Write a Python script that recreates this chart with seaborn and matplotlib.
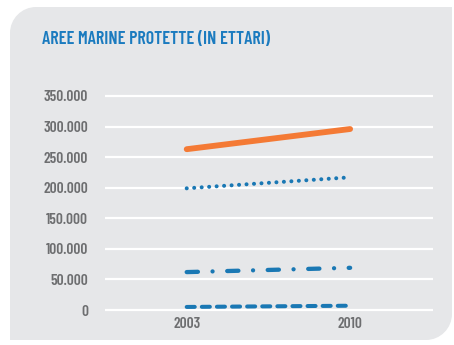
import matplotlib
matplotlib.use("Agg")
import matplotlib.pyplot as plt
from matplotlib.path import Path
from matplotlib.patches import PathPatch
from matplotlib import font_manager
import seaborn as sns
import pandas as pd

years = [2003, 2010]
serie_arancio = [263000, 296000]
serie_punti = [199000, 217000]
serie_tratto_punto = [62000, 69000]
serie_tratteggio = [5000, 7000]
yticks = [0, 50000, 100000, 150000, 200000, 250000, 300000, 350000]
ytick_labels = ["0", "50.000", "100.000", "150.000", "200.000", "250.000", "300.000", "350.000"]
title = "AREE MARINE PROTETTE (IN ETTARI)"

names = {f.name for f in font_manager.fontManager.ttflist}
font = "DejaVu Sans"
for cand in ["Barlow Condensed", "Roboto Condensed", "Barlow Semi Condensed",
             "PT Sans Narrow", "Liberation Sans Narrow"]:
    if cand in names:
        font = cand
        break

sns.set_theme(style="white")
plt.rcParams["font.family"] = [font, "DejaVu Sans"]

W, H = 454, 345
fig = plt.figure(figsize=(W / 100, H / 100), dpi=100)
fig.patch.set_facecolor("white")
renderer = fig.canvas.get_renderer()


def fit_size(text_obj, target_px):
    """Scale a text's font size so its rendered width is target_px."""
    w = text_obj.get_window_extent(renderer).width
    text_obj.set_fontsize(text_obj.get_fontsize() * target_px / w)
    return text_obj.get_fontsize()


# background panel with rounded top-left and bottom-right corners
bg = fig.add_axes([0, 0, 1, 1])
bg.set_xlim(0, W)
bg.set_ylim(H, 0)
bg.axis("off")
x0, y0, x1, y1, r = 10, 7, 452, 340, 26
k = 0.55
verts = [
    (x0 + r, y0), (x1, y0), (x1, y1 - r),
    (x1, y1 - r + r * k), (x1 - r + r * k, y1), (x1 - r, y1),
    (x0, y1), (x0, y0 + r),
    (x0, y0 + r - r * k), (x0 + r - r * k, y0), (x0 + r, y0),
    (x0 + r, y0),
]
codes = [Path.MOVETO, Path.LINETO, Path.LINETO,
         Path.CURVE4, Path.CURVE4, Path.CURVE4,
         Path.LINETO, Path.LINETO,
         Path.CURVE4, Path.CURVE4, Path.CURVE4,
         Path.CLOSEPOLY]
bg.add_patch(PathPatch(Path(verts, codes), facecolor="#e6e7e9", edgecolor="none"))
t = bg.text(42, 39, title, color="#1b7bbf", fontsize=12, fontweight="semibold",
            va="center", ha="left")
fit_size(t, 228)

# tick label size from the width of the widest label
probe = bg.text(0, 0, "350.000", fontsize=12, fontweight="semibold")
tick_size = fit_size(probe, 44)
probe.remove()

ymin, ymax = -5000, 355000
ppu = 214 / 350000
top_px = 96 - (ymax - 350000) * ppu
bot_px = 310 + (0 - ymin) * ppu
ax = fig.add_axes([105 / W, (H - bot_px) / H, 328 / W, (bot_px - top_px) / H])
ax.set_facecolor("none")

df = pd.DataFrame({
    "anno": years * 4,
    "valore": serie_arancio + serie_punti + serie_tratto_punto + serie_tratteggio,
    "serie": ["a"] * 2 + ["b"] * 2 + ["c"] * 2 + ["d"] * 2,
})

blue = "#1a78b4"
styles = {
    "a": dict(color="#f47a35", lw=4.2, linestyle="-", solid_capstyle="round"),
    "b": dict(color=blue, lw=2.9, linestyle=(0, (0.01, 1.85)), dash_capstyle="round"),
    "c": dict(color=blue, lw=3.1, linestyle=(0, (2.6, 3.4, 0.01, 3.4)), dash_capstyle="round"),
    "d": dict(color=blue, lw=2.9, linestyle=(0, (2.0, 1.75)), dash_capstyle="round"),
}
for key, st in styles.items():
    sub = df[df["serie"] == key]
    sns.lineplot(data=sub, x="anno", y="valore", ax=ax, legend=False,
                 clip_on=False, **st)

ax.set_xlim(1999.5, 2013.55)
ax.set_ylim(ymin, ymax)
ax.set_yticks(yticks)
ax.set_yticklabels(ytick_labels)
ax.set_xticks(years)
ax.set_xticklabels([str(y) for y in years])
ax.grid(axis="y", color="white", lw=1.6, zorder=0)
ax.set_axisbelow(True)
for s in ax.spines.values():
    s.set_visible(False)
ax.tick_params(axis="y", length=0, pad=12, labelsize=tick_size, labelcolor="#6d6e70")
ax.tick_params(axis="x", length=0, pad=3, labelsize=tick_size, labelcolor="#6d6e70")
for lab in ax.get_xticklabels() + ax.get_yticklabels():
    lab.set_fontweight("semibold")
ax.set_xlabel("")
ax.set_ylabel("")

fig.savefig("out.png", dpi=100, facecolor="white")
